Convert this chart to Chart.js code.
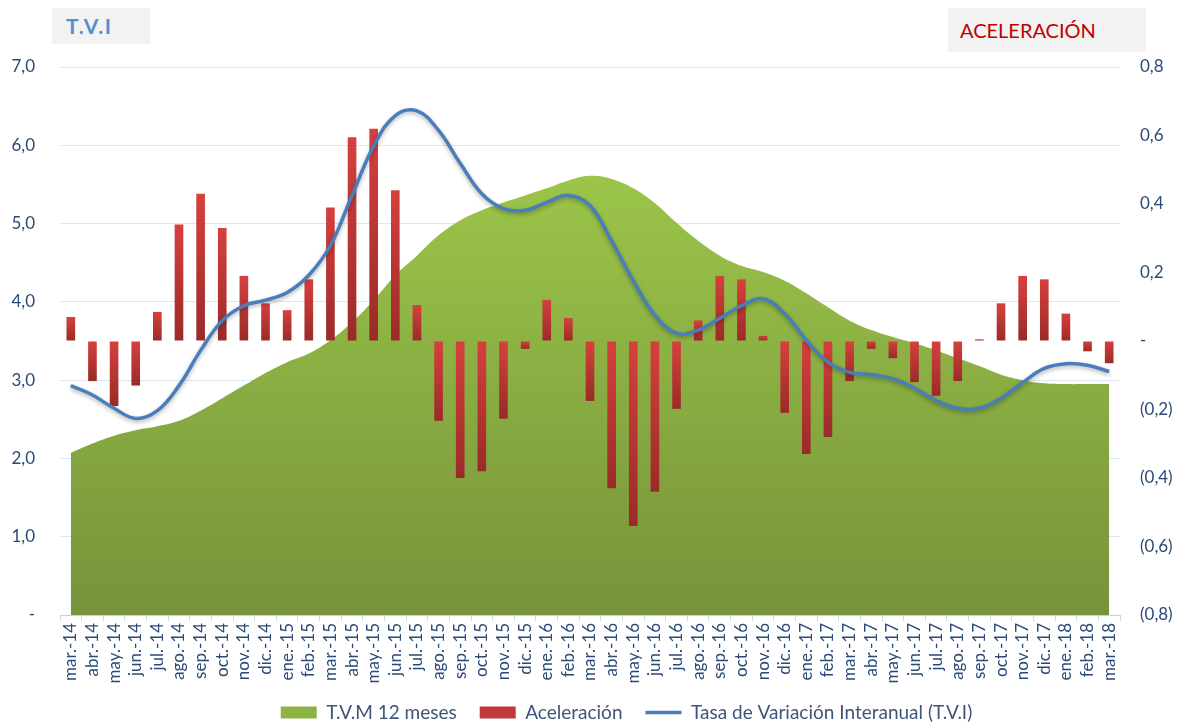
<!DOCTYPE html>
<html>
<head>
<meta charset="utf-8">
<script src="https://cdn.jsdelivr.net/npm/chart.js@4.4.1/dist/chart.umd.min.js"></script>
<style>
  body { margin: 0; background: #fff; }
  #wrap { position: relative; width: 1183px; height: 722px; }
  .tag { position: absolute; background: #f2f2f2; font-family: Lato, "Open Sans", sans-serif; }
  #tagTvi { left: 52px; top: 8px; width: 98px; height: 36px; color: #558ed5; font-weight: bold; font-size: 21px; letter-spacing: 1.5px; line-height: 36px; padding-left: 14px; box-sizing: border-box; }
  #tagAcel { left: 948px; top: 8px; width: 198px; height: 44px; color: #c00000; font-size: 20px; line-height: 44px; padding-left: 12px; box-sizing: border-box; }
</style>
</head>
<body>
<div id="wrap">
  <canvas id="grafico" width="1183" height="722"></canvas>
  <div class="tag" id="tagTvi">T.V.I</div>
  <div class="tag" id="tagAcel">ACELERACIÓN</div>
</div>
<script>
const meses = ['mar.-14','abr.-14','may.-14','jun.-14','jul.-14','ago.-14','sep.-14','oct.-14','nov.-14','dic.-14',
  'ene.-15','feb.-15','mar.-15','abr.-15','may.-15','jun.-15','jul.-15','ago.-15','sep.-15','oct.-15','nov.-15','dic.-15',
  'ene.-16','feb.-16','mar.-16','abr.-16','may.-16','jun.-16','jul.-16','ago.-16','sep.-16','oct.-16','nov.-16','dic.-16',
  'ene.-17','feb.-17','mar.-17','abr.-17','may.-17','jun.-17','jul.-17','ago.-17','sep.-17','oct.-17','nov.-17','dic.-17',
  'ene.-18','feb.-18','mar.-18'];

// T.V.M 12 meses (eje izquierdo)
const tvm12 = [2.07,2.19,2.29,2.36,2.41,2.48,2.61,2.77,2.93,3.09,
  3.23,3.34,3.51,3.74,4.02,4.34,4.59,4.85,5.04,5.17,5.27,5.36,
  5.45,5.55,5.61,5.57,5.45,5.26,5.01,4.78,4.59,4.46,4.38,4.27,
  4.11,3.93,3.76,3.64,3.55,3.47,3.38,3.28,3.18,3.07,3.00,2.96,
  2.95,2.95,2.95];

// Tasa de Variación Interanual (eje izquierdo)
const tvi = [2.93,2.81,2.64,2.51,2.61,2.93,3.38,3.76,3.95,4.02,
  4.12,4.34,4.72,5.36,5.99,6.38,6.44,6.19,5.77,5.38,5.19,5.17,
  5.27,5.36,5.23,4.78,4.27,3.83,3.60,3.64,3.79,3.95,4.04,3.85,
  3.51,3.23,3.10,3.07,3.02,2.90,2.74,2.64,2.64,2.77,2.97,3.15,
  3.21,3.19,3.11];

// Aceleración (eje derecho)
const aceleracion = [0.07,-0.117,-0.19,-0.13,0.085,0.34,0.43,0.33,0.19,0.11,
  0.09,0.18,0.39,0.595,0.62,0.44,0.105,-0.233,-0.40,-0.38,-0.227,-0.023,
  0.12,0.067,-0.175,-0.43,-0.54,-0.44,-0.198,0.06,0.19,0.18,0.015,-0.21,
  -0.33,-0.28,-0.117,-0.023,-0.05,-0.12,-0.16,-0.117,0.005,0.11,0.19,0.18,
  0.08,-0.03,-0.065];

const ticksIzq = [0,1,2,3,4,5,6,7];
const ticksDer = [-0.8,-0.6,-0.4,-0.2,0,0.2,0.4,0.6,0.8];

const fuente = 'Lato, "Open Sans", sans-serif';
const azulTexto = '#2a4a78';
const coloresLeyenda = ['#8db443', '#c0393b', '#4a7ebb'];

const fmtIzq = (v) => Math.abs(v) < 1e-9 ? '-' : v.toFixed(1).replace('.', ',');
const fmtDer = (v) => {
  if (Math.abs(v) < 1e-9) return '-';
  const s = Math.abs(v).toFixed(1).replace('.', ',');
  return v < 0 ? '(' + s + ')' : s;
};

const verdeArea = (context) => {
  const { chart } = context;
  const area = chart.chartArea;
  if (!area || context.type !== 'dataset') return '#8db443';
  const g = chart.ctx.createLinearGradient(0, area.top + 100, 0, area.bottom);
  g.addColorStop(0, '#9cc64a');
  g.addColorStop(1, '#76933a');
  return g;
};

const rojoBarra = (context) => {
  const { chart } = context;
  if (!chart.chartArea || context.type !== 'data' || !chart.scales.y2) return '#c0393b';
  const v = context.raw;
  const y2 = chart.scales.y2;
  const top = y2.getPixelForValue(Math.max(v, 0));
  const bot = y2.getPixelForValue(Math.min(v, 0));
  if (!isFinite(top) || !isFinite(bot) || bot - top < 1) return '#c0393b';
  const g = chart.ctx.createLinearGradient(0, top, 0, bot);
  g.addColorStop(0, '#d6403e');
  g.addColorStop(1, '#9a2b28');
  return g;
};

const sombraLinea = {
  id: 'sombraLinea',
  beforeDatasetDraw(chart, args) {
    if (args.index !== 2) return;
    const c = chart.ctx;
    c.save();
    c.shadowColor = 'rgba(0,0,0,0.3)';
    c.shadowBlur = 4;
    c.shadowOffsetY = 2;
  },
  afterDatasetDraw(chart, args) {
    if (args.index !== 2) return;
    chart.ctx.restore();
  }
};

// la leyenda usa el mismo padding vertical y horizontal; la subimos y la corremos a la derecha
const moverLeyenda = {
  id: 'moverLeyenda',
  afterLayout(chart) {
    const lg = chart.legend;
    if (!lg) return;
    lg.top -= 12;
    lg.height = lg.bottom - lg.top;
    lg.left += 70;
    lg.width = lg.right - lg.left;
  }
};

new Chart(document.getElementById('grafico'), {
  type: 'bar',
  data: {
    labels: meses,
    datasets: [
      {
        type: 'line',
        label: 'T.V.M 12 meses',
        data: tvm12,
        yAxisID: 'y',
        fill: 'origin',
        backgroundColor: verdeArea,
        borderWidth: 0,
        borderColor: 'rgba(0,0,0,0)',
        pointRadius: 0,
        pointStyle: 'rect',
        tension: 0.4,
        order: 3
      },
      {
        label: 'Aceleración',
        data: aceleracion,
        yAxisID: 'y2',
        backgroundColor: rojoBarra,
        barPercentage: 0.4,
        categoryPercentage: 1,
        pointStyle: 'rect',
        order: 2
      },
      {
        type: 'line',
        label: 'Tasa de Variación Interanual (T.V.I)',
        data: tvi,
        yAxisID: 'y',
        borderColor: '#4a7ebb',
        backgroundColor: '#4a7ebb',
        borderWidth: 3.5,
        pointRadius: 0,
        pointStyle: 'line',
        fill: false,
        tension: 0.4,
        order: 1
      }
    ]
  },
  options: {
    responsive: false,
    animation: false,
    layout: { padding: { top: 67, left: 0, right: 0, bottom: 0 } },
    plugins: {
      tooltip: { enabled: false },
      legend: {
        position: 'bottom',
        maxHeight: 30,
        labels: {
          usePointStyle: true,
          pointStyleWidth: 36,
          boxHeight: 12,
          padding: 23,
          color: '#3f5577',
          font: { family: fuente, size: 19 },
          sort: (a, b) => a.datasetIndex - b.datasetIndex,
          generateLabels: (chart) => {
            const items = Chart.defaults.plugins.legend.labels.generateLabels(chart);
            items.forEach(it => {
              it.fillStyle = coloresLeyenda[it.datasetIndex];
              it.strokeStyle = coloresLeyenda[it.datasetIndex];
            });
            return items;
          }
        }
      }
    },
    scales: {
      x: {
        offset: true,
        grid: { display: true, drawOnChartArea: false, offset: true, tickLength: 6, color: '#d0d8e4' },
        border: { display: true, color: '#c8d0dc' },
        ticks: {
          autoSkip: false,
          minRotation: 90,
          maxRotation: 90,
          color: azulTexto,
          font: { family: fuente, size: 17 },
          padding: 2
        },
        afterFit: (scale) => { scale.height = 77; }
      },
      y: {
        position: 'left',
        min: 0,
        max: 7,
        afterBuildTicks: (scale) => { scale.ticks = ticksIzq.map(v => ({ value: v })); },
        grid: { color: '#dce6f2', drawTicks: false },
        border: { display: false },
        ticks: { callback: fmtIzq, color: azulTexto, font: { family: fuente, size: 17 }, padding: 25 },
        afterFit: (scale) => { scale.width = 60; }
      },
      y2: {
        position: 'right',
        min: -0.8,
        max: 0.8,
        afterBuildTicks: (scale) => { scale.ticks = ticksDer.map(v => ({ value: v })); },
        grid: { drawOnChartArea: false, drawTicks: false },
        border: { display: false },
        ticks: { callback: fmtDer, color: azulTexto, font: { family: fuente, size: 17 }, padding: 20 },
        afterFit: (scale) => { scale.width = 63; }
      }
    }
  },
  plugins: [sombraLinea, moverLeyenda]
});
</script>
</body>
</html>
